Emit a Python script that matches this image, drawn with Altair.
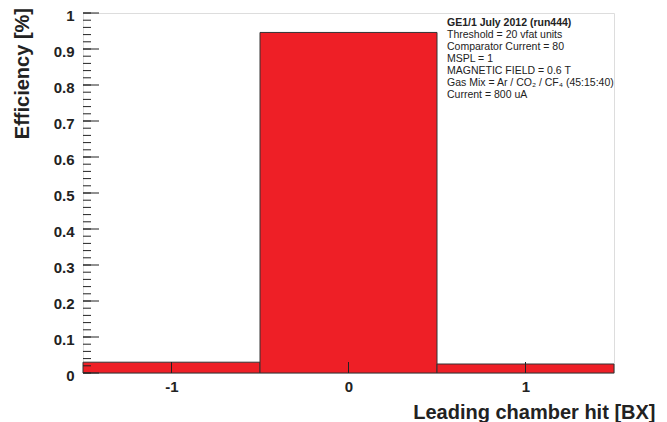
import altair as alt
import pandas as pd
import numpy as np

# Histogram bins (BX offset) and efficiency
bin_lo = [-1.5, -0.5, 0.5]
bin_hi = [-0.5, 0.5, 1.5]
eff = [0.030, 0.946, 0.025]

y_major = [0, 0.1, 0.2, 0.3, 0.4, 0.5, 0.6, 0.7, 0.8, 0.9, 1.0]
y_minor = [round(v, 2) for v in np.arange(0, 1.0001, 0.02)]
x_major = [-1, 0, 1]

info_lines = [
    "GE1/1 July 2012 (run444)",
    "Threshold = 20 vfat units",
    "Comparator Current = 80",
    "MSPL = 1",
    "MAGNETIC FIELD = 0.6 T",
    "Gas Mix = Ar / CO\u2082 / CF\u2084 (45:15:40)",
    "Current = 800 uA",
]

FONT = "Liberation Sans"
W, H = 531, 360

bars_df = pd.DataFrame({"lo": bin_lo, "hi": bin_hi, "eff": eff, "base": [0] * 3})
xs = alt.Scale(domain=[-1.5, 1.5], nice=False, zero=False)
ys = alt.Scale(domain=[0, 1], nice=False)

xaxis = alt.Axis(
    values=x_major, labelExpr="'' + datum.value", ticks=False, domain=False, grid=False,
    labelFont=FONT, labelFontSize=15, labelFontWeight="bold",
    labelColor="#222222", labelPadding=6,
    title="Leading chamber hit [BX]", titleFont=FONT, titleFontSize=20,
    titleFontWeight="bold", titleColor="#222222",
    titleX=572, titleY=45, titleAlign="right", titleBaseline="alphabetic")
yaxis = alt.Axis(
    values=y_major, format="~g", ticks=False, domain=False, grid=False,
    labelFont=FONT, labelFontSize=15, labelFontWeight="bold",
    labelColor="#222222", labelPadding=9, labelOffset=2.5,
    title="Efficiency [%]", titleFont=FONT, titleFontSize=20,
    titleFontWeight="bold", titleColor="#222222",
    titleX=-61, titleY=-5.5, titleAngle=-90, titleAlign="right",
    titleBaseline="middle")

bars = alt.Chart(bars_df).mark_rect(
    fill="#ee1f26", stroke="#333333", strokeWidth=1
).encode(
    x=alt.X("lo:Q", scale=xs, axis=xaxis),
    x2="hi:Q",
    y=alt.Y("eff:Q", scale=ys, axis=yaxis),
    y2="base:Q",
)

ymaj = alt.Chart(pd.DataFrame({"v": y_major})).mark_rule(
    color="#222222", strokeWidth=1
).encode(y=alt.Y("v:Q", scale=ys, axis=yaxis), x=alt.value(0), x2=alt.value(16))

ymin = alt.Chart(pd.DataFrame({"v": y_minor})).mark_rule(
    color="#222222", strokeWidth=1
).encode(y=alt.Y("v:Q", scale=ys, axis=yaxis), x=alt.value(0), x2=alt.value(8))

xmaj = alt.Chart(pd.DataFrame({"v": x_major})).mark_rule(
    color="#222222", strokeWidth=1
).encode(x=alt.X("v:Q", scale=xs, axis=xaxis), y=alt.value(H), y2=alt.value(H - 11))

text_layers = []
for i, line in enumerate(info_lines):
    t = alt.Chart(pd.DataFrame({"t": [line]})).mark_text(
        font=FONT, fontSize=10.5, fontWeight="bold" if i == 0 else "normal",
        color="#222222", align="left", baseline="middle"
    ).encode(text="t:N", x=alt.value(364), y=alt.value(9.8 + 11.95 * i))
    text_layers.append(t)

chart = alt.layer(bars, ymin, ymaj, xmaj, *text_layers).properties(
    width=W, height=H,
    autosize=alt.AutoSizeParams(type="none"),
    padding={"left": 75, "top": 5, "right": 45, "bottom": 49},
).configure_view(stroke="#333333", strokeWidth=1).configure(background="white")

chart.save("out.html", embed_options={"renderer": "svg", "actions": False})
